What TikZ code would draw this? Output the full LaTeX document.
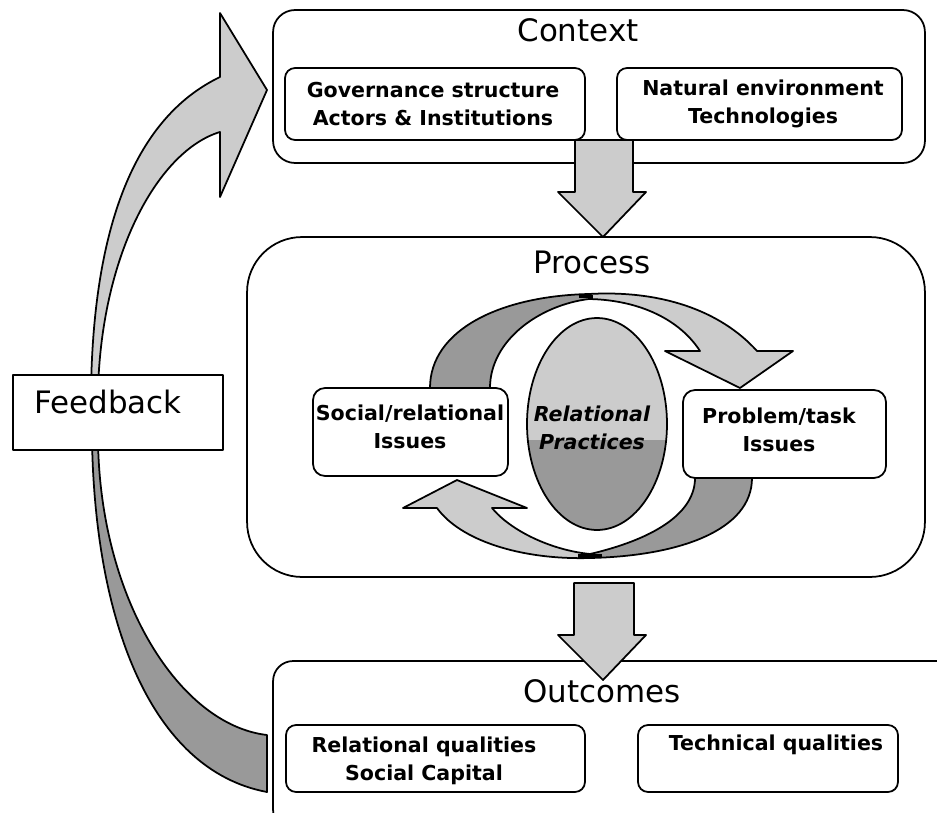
\documentclass[tikz,border=0pt]{standalone}
\usepackage{fontspec}
\setmainfont{DejaVu Sans}
\usetikzlibrary{shapes.geometric}
\definecolor{lightg}{HTML}{CCCCCC}
\definecolor{darkg}{HTML}{999999}
\tikzset{
  outline/.style={draw=black, line width=1pt, line join=round},
  bigbox/.style={outline, fill=white, rectangle, inner sep=0pt},
  titletext/.style={font=\fontsize{17.6}{21}\selectfont, inner sep=0pt},
  itemtext/.style={font=\fontsize{11.7}{15.6}\selectfont\bfseries, align=center, inner sep=0pt},
  lightfill/.style={outline, fill=lightg},
  darkfill/.style={outline, fill=darkg},
  twist/.style={line width=2.2pt},
}
\begin{document}
\begin{tikzpicture}[x=0.02cm, y=-0.02cm]
\useasboundingbox (0,0) rectangle (937,812);
\clip (0,0) rectangle (937,812);

% ---------- Feedback arrow ----------
\draw[lightfill] (91,390) .. controls (93,260) and (120,125) .. (220,77)
  -- (220,13) -- (267,90) -- (220,197) -- (220,132)
  .. controls (160,150) and (102,250) .. (98,390) -- cycle;
\draw[darkfill] (92,440) .. controls (95,620) and (150,770) .. (267,792)
  -- (267,735)
  .. controls (180,725) and (100,600) .. (98,440) -- cycle;
\node[outline, fill=white, rectangle, inner sep=0pt, minimum width=4.2cm, minimum height=1.5cm] (fb) at (118,412.5) {};
\node[titletext] (fbT) at (108,402) {Feedback};

% ---------- Context ----------
\node[bigbox, rounded corners=0.44cm, minimum width=13.04cm, minimum height=3.06cm] (context) at (599,86.5) {};
\node[titletext] (contextT) at (578,30) {Context};
\node[bigbox, rounded corners=0.2cm, minimum width=6cm, minimum height=1.44cm] (gov) at (435,104) {};
\node[itemtext] (govT) at (433,104) {Governance structure\\Actors \& Institutions};
\node[bigbox, rounded corners=0.2cm, minimum width=5.7cm, minimum height=1.44cm] (nat) at (759.5,104) {};
\node[itemtext] (natT) at (763,104) {Natural environment\\Technologies};

% arrow context -> process
\draw[lightfill] (575,140) -- (633,140) -- (633,192) -- (646,192) -- (603,237) -- (558,192) -- (575,192) -- cycle;

% ---------- Process ----------
\node[bigbox, rounded corners=1.1cm, minimum width=13.56cm, minimum height=6.8cm] (process) at (586,407) {};
\node[titletext] (processT) at (592,262) {Process};

% cycle arrows
\draw[darkfill] (430,388) .. controls (430,330) and (500,296) .. (589,294)
  -- (589,299)
  .. controls (540,305) and (490,340) .. (490,388) -- cycle;
\draw[lightfill] (589,294) .. controls (660,290) and (720,310) .. (757,351)
  -- (793,351) -- (740,388) -- (665,351) -- (700,351)
  .. controls (680,320) and (640,300) .. (589,299) -- cycle;
\draw[twist] (579,296.5) -- (593,296.5);
\draw[darkfill] (752,478) .. controls (752,530) and (680,556) .. (590,558)
  -- (590,554)
  .. controls (650,540) and (695,515) .. (695,478) -- cycle;
\draw[lightfill] (590,558) .. controls (520,560) and (460,540) .. (437,508)
  -- (403,508) -- (457,480) -- (527,508) -- (492,508)
  .. controls (510,530) and (550,550) .. (590,554) -- cycle;
\draw[twist] (578,556) -- (602,556);

\node[ellipse, outline, fill=lightg, inner sep=0pt, minimum width=2.8cm, minimum height=4.24cm,
  path picture={\fill[darkg] ([yshift=-0.32cm]path picture bounding box.west) rectangle (path picture bounding box.south east);}] (rp) at (597,424) {};
\node[itemtext, font=\fontsize{11.7}{15.6}\selectfont\bfseries\itshape] (rpT) at (592,428) {Relational\\Practices};

\node[bigbox, rounded corners=0.24cm, minimum width=3.9cm, minimum height=1.76cm] (social) at (410.5,432) {};
\node[itemtext] (socialT) at (410,427) {Social/relational\\Issues};
\node[bigbox, rounded corners=0.24cm, minimum width=4.06cm, minimum height=1.76cm] (problem) at (784.5,434) {};
\node[itemtext] (problemT) at (779,430) {Problem/task\\Issues};

% ---------- Outcomes ----------
\node[bigbox, rounded corners=0.4cm, minimum width=13.68cm, minimum height=3.38cm] (outcomes) at (615,745.5) {};
\node[titletext] (outcomesT) at (602,691) {Outcomes};
\node[bigbox, rounded corners=0.2cm, minimum width=5.98cm, minimum height=1.34cm] (rel) at (435.5,758.5) {};
\node[itemtext] (relT) at (424,761) {Relational qualities\\Social Capital};
\node[bigbox, rounded corners=0.2cm, minimum width=5.2cm, minimum height=1.34cm] (tech) at (768,758.5) {};
\node[itemtext] (techT) at (776,745) {Technical qualities};

% arrow process -> outcomes
\draw[lightfill] (574,583) -- (634,583) -- (634,635) -- (646,635) -- (603,680) -- (558,635) -- (574,635) -- cycle;
\end{tikzpicture}
\end{document}
